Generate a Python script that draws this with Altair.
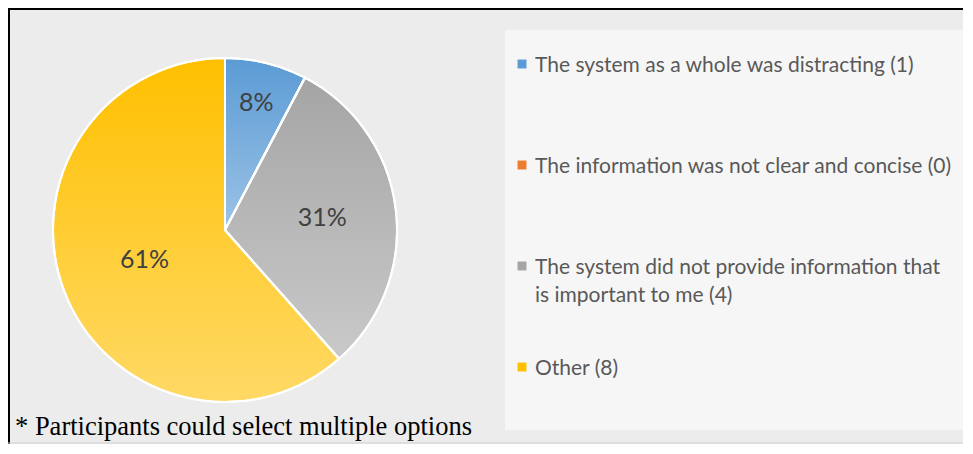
import altair as alt
import pandas as pd

# ---- data ----
categories = [
    "The system as a whole was distracting (1)",
    "The information was not clear and concise (0)",
    "The system did not provide information that is important to me (4)",
    "Other (8)",
]
legend_labels = [
    "The system as a whole was distracting (1)",
    "The information was not clear and concise (0)",
    "The system did not provide information that\nis important to me (4)",
    "Other (8)",
]
counts = [1, 0, 4, 8]
pct_labels = ["8%", "", "31%", "61%"]
colors = ["#5B9BD5", "#ED7D31", "#A5A5A5", "#FFC000"]
footnote = "* Participants could select multiple options"

df = pd.DataFrame({
    "category": categories,
    "legend": legend_labels,
    "count": counts,
    "pct": pct_labels,
    "order": list(range(len(categories))),
})

W, H = 955, 436
CX, CY, R = 217, 222, 172

color_scale = alt.Scale(domain=categories, range=colors)

base = (
    alt.Chart(df)
    .transform_window(cum="sum(count)", sort=[alt.SortField("order")], frame=[None, 0])
    .transform_joinaggregate(total="sum(count)")
    .transform_calculate(
        a0="2*PI*(datum.cum-datum.count)/datum.total",
        a1="2*PI*datum.cum/datum.total",
        mid="PI*(2*datum.cum-datum.count)/datum.total",
    )
)

# frame / background pieces
legend_box = alt.Chart(df).mark_rect(fill="#F6F6F6").encode(
    x=alt.value(497), x2=alt.value(W), y=alt.value(22), y2=alt.value(422)
).transform_filter("datum.order == 0")
left_border = alt.Chart(df).mark_rule(color="#000000", strokeWidth=2).encode(
    x=alt.value(1), y=alt.value(0), y2=alt.value(H)
).transform_filter("datum.order == 0")
top_border = alt.Chart(df).mark_rule(color="#000000", strokeWidth=2).encode(
    x=alt.value(0), x2=alt.value(W), y=alt.value(1)
).transform_filter("datum.order == 0")
bottom_border = alt.Chart(df).mark_rule(color="#D0D0D0", strokeWidth=1).encode(
    x=alt.value(0), x2=alt.value(W), y=alt.value(H - 1)
).transform_filter("datum.order == 0")

# pie
slices = base.mark_arc(outerRadius=R, stroke="white", strokeWidth=2).encode(
    theta=alt.Theta("a0:Q", scale=None),
    theta2="a1:Q",
    color=alt.Color("category:N", scale=color_scale, legend=None),
    x=alt.value(CX),
    y=alt.value(CY),
)
shade = base.mark_arc(
    outerRadius=R,
    stroke="white",
    strokeWidth=2,
    color=alt.Gradient(
        gradient="linear",
        x1=0, y1=0, x2=0, y2=1,
        stops=[
            alt.GradientStop(color="rgba(255,255,255,0)", offset=0),
            alt.GradientStop(color="rgba(255,255,255,0.4)", offset=1),
        ],
    ),
).encode(
    theta=alt.Theta("a0:Q", scale=None),
    theta2="a1:Q",
    x=alt.value(CX),
    y=alt.value(CY),
)

label_radius = {0: 131, 2: 98, 3: 86}
labels = []
for idx, rad in label_radius.items():
    labels.append(
        base.transform_filter(f"datum.order == {idx}")
        .mark_text(font="Lato", fontSize=25, color="#404040", align="center", baseline="middle")
        .encode(
            theta=alt.Theta("mid:Q", scale=None),
            radius=alt.value(rad),
            x=alt.value(CX),
            y=alt.value(CY),
            text="pct:N",
        )
    )

# legend
leg_y = alt.Scale(type="point", domain=categories, range=[56, 359], padding=0)
leg_sq = alt.Chart(df).mark_square(size=80, opacity=1).encode(
    x=alt.value(514),
    y=alt.Y("category:N", scale=leg_y, axis=None),
    color=alt.Color("category:N", scale=color_scale, legend=None),
)
leg_txt = alt.Chart(df).mark_text(
    font="Lato", fontSize=21, color="#595959", align="left", baseline="top",
    dy=-9.5, lineBreak="\n", lineHeight=28,
).encode(
    x=alt.value(527),
    y=alt.Y("category:N", scale=leg_y, axis=None),
    text="legend:N",
)

note = alt.Chart(df).transform_filter("datum.order == 0").transform_calculate(
    note=f"'{footnote}'"
).mark_text(
    font="Liberation Serif", fontSize=26.5, color="#000000", align="left", baseline="alphabetic"
).encode(x=alt.value(7), y=alt.value(427), text="note:N")

chart = alt.layer(
    legend_box, slices, shade, *labels, leg_sq, leg_txt, note,
    left_border, top_border, bottom_border,
).properties(
    width=W, height=H, autosize=alt.AutoSizeParams(type="none"), padding=0,
    background="#ECECEC",
).configure_view(strokeWidth=0)

chart.save("out.html", embed_options={"renderer": "svg", "actions": False})
